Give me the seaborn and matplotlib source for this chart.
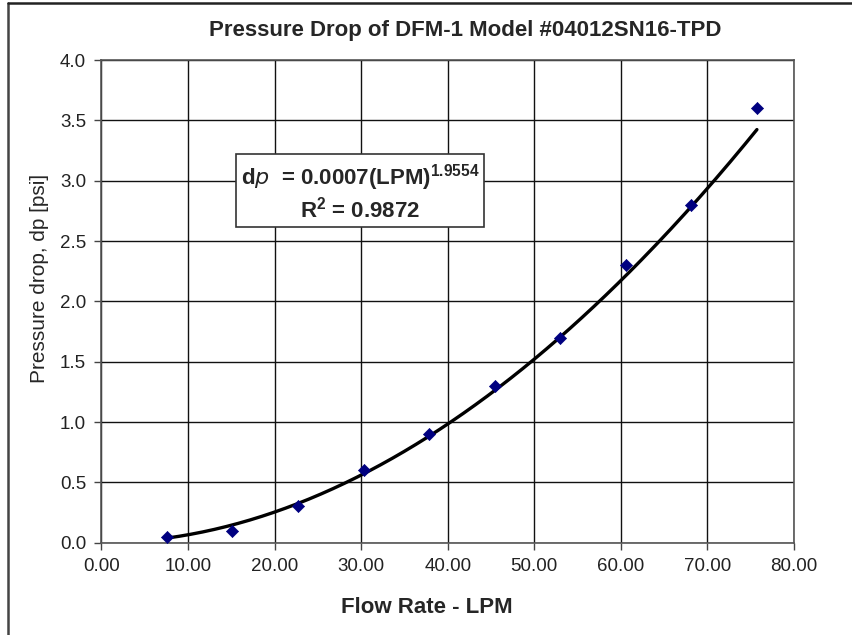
import numpy as np
import pandas as pd
import matplotlib.pyplot as plt
import seaborn as sns
from matplotlib.lines import Line2D

# Data (flow in LPM, pressure drop in psi)
flow_lpm = [7.57, 15.14, 22.71, 30.28, 37.85, 45.42, 53.00, 60.57, 68.14, 75.71]
dp_psi = [0.05, 0.10, 0.30, 0.60, 0.90, 1.30, 1.70, 2.30, 2.80, 3.60]
x_ticks = [0, 10, 20, 30, 40, 50, 60, 70, 80]
y_ticks = [0.0, 0.5, 1.0, 1.5, 2.0, 2.5, 3.0, 3.5, 4.0]

df = pd.DataFrame({'flow': flow_lpm, 'dp': dp_psi})

# power trendline, fitted in log-log space like Excel does
coef = np.polyfit(np.log(df['flow']), np.log(df['dp']), 1)
fit_x = np.linspace(df['flow'].min(), df['flow'].max(), 200)
fit_df = pd.DataFrame({'flow': fit_x, 'dp': np.exp(coef[1]) * fit_x ** coef[0]})

sns.set_theme(style = 'white')
plt.rcParams['font.family'] = ['Liberation Sans', 'DejaVu Sans']

fig = plt.figure(figsize = (8.52, 6.35), dpi = 100)
ax = fig.add_axes([0.119, 0.1454, 0.813, 0.76])

sns.lineplot(ax = ax, data = fit_df, x = 'flow', y = 'dp', color = 'black', linewidth = 2.4, zorder = 3)
sns.scatterplot(ax = ax, data = df, x = 'flow', y = 'dp', marker = 'D', s = 38,
                color = '#000080', edgecolor = '#000080', zorder = 4)

ax.set_xlim(0, 80)
ax.set_ylim(0, 4.0)
ax.set_xticks(x_ticks)
ax.set_xticklabels([f'{v:.2f}' for v in x_ticks])
ax.set_yticks(y_ticks)
ax.set_yticklabels([f'{v:.1f}' for v in y_ticks])
ax.grid(True, color = '#111111', linewidth = 1.0)
ax.set_axisbelow(True)
for s in ax.spines.values():
    s.set_color('#555555')
    s.set_linewidth(1.2)
ax.tick_params(axis = 'both', direction = 'out', length = 5, width = 1, color = '#444444',
               labelsize = 13.5, labelcolor = '#222222', bottom = True, left = True, pad = 6)

ax.set_xlabel('Flow Rate - LPM', fontsize = 16, fontweight = 'bold')
ax.xaxis.set_label_coords(0.47, -0.113)
ax.set_ylabel('Pressure drop, dp [psi]', fontsize = 15)
ax.yaxis.set_label_coords(-0.075, 0.548)
ax.set_title('Pressure Drop of DFM-1 Model #04012SN16-TPD', fontsize = 16, fontweight = 'bold', pad = 17, x = 0.525)

ax.text(29.9, 2.905, 'd$\\mathit{p}$  = 0.0007(LPM)$^{\\mathregular{1.9554}}$\nR$^{\\mathregular{2}}$ = 0.9872',
        ha = 'center', va = 'center', fontsize = 16, fontweight = 'bold', linespacing = 1.15,
        bbox = dict(boxstyle = 'square,pad=0.2', facecolor = 'white', edgecolor = '#333333', linewidth = 1.2),
        zorder = 5)

# outer frame (left and top edges only)
fig.add_artist(Line2D([0.0094, 0.0094], [0.0, 0.995], transform = fig.transFigure, color = '#444444', linewidth = 1.8))
fig.add_artist(Line2D([0.0094, 1.0], [0.995, 0.995], transform = fig.transFigure, color = '#222222', linewidth = 1.8))

fig.savefig('out.png', dpi = 100)
